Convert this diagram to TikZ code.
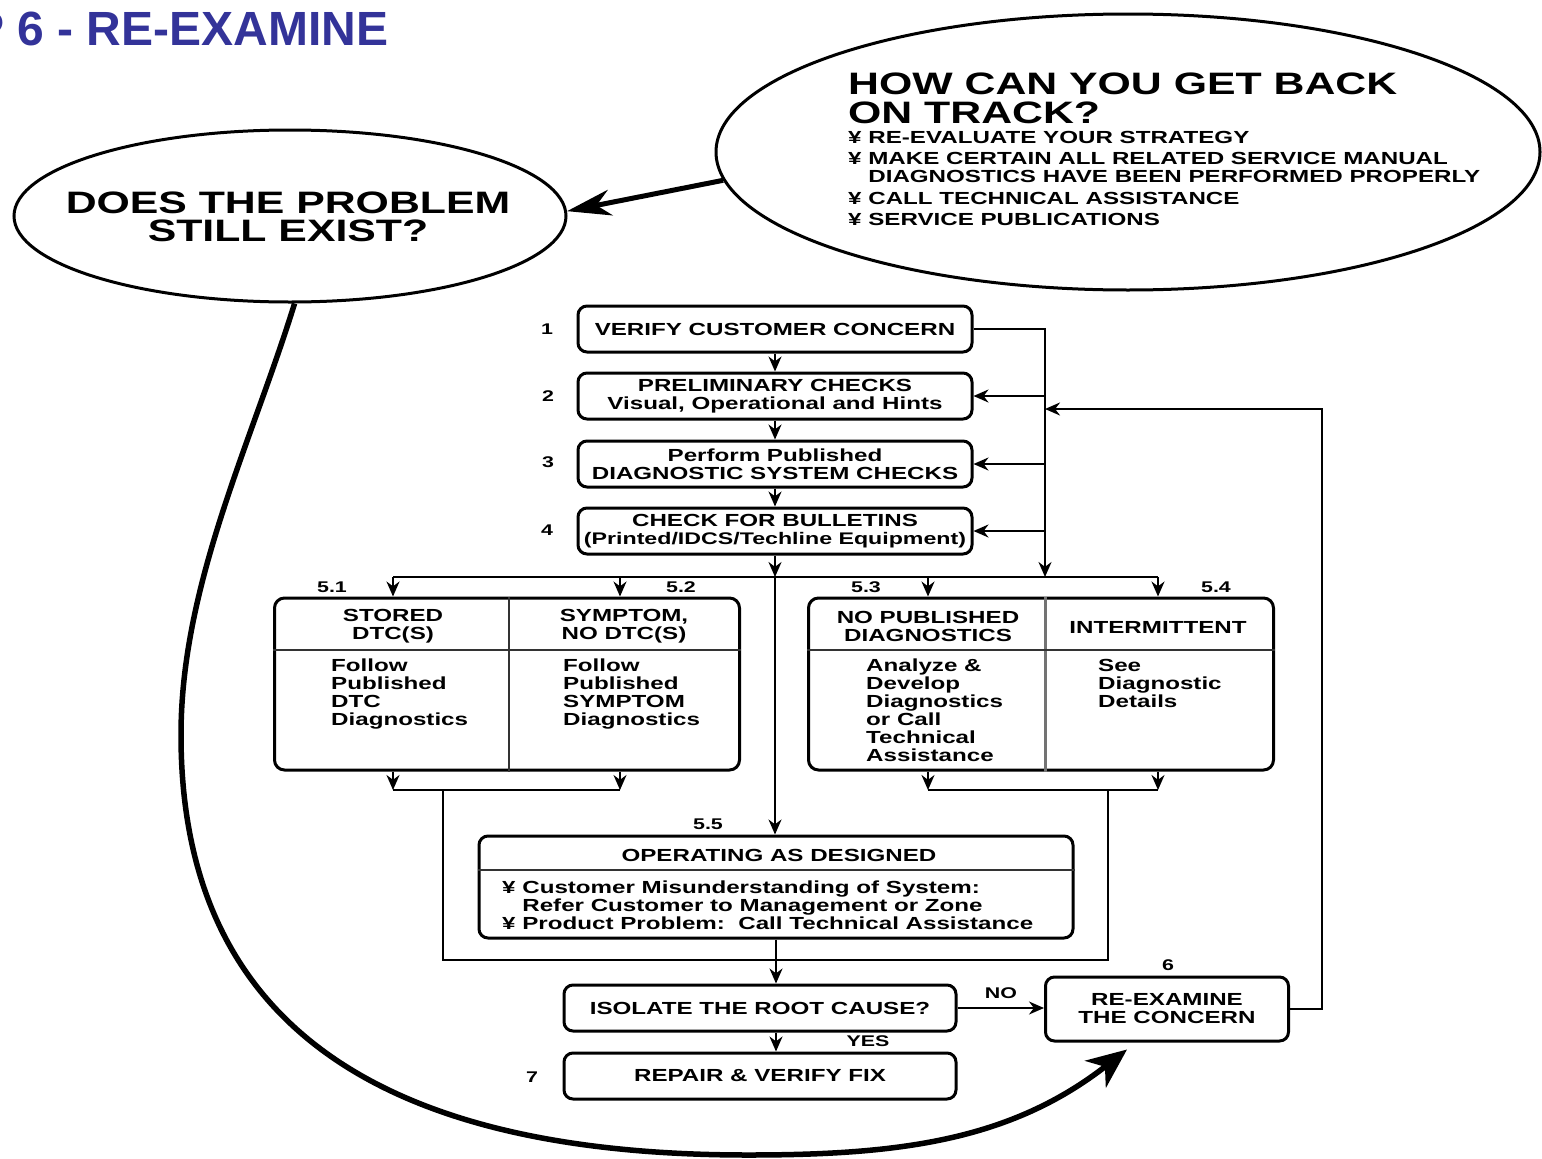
\documentclass[tikz,border=0pt]{standalone}
\usepackage{fontspec}
\setmainfont{Liberation Sans}
\newfontfamily\widefont[FakeStretch=1.38]{Liberation Sans}
\usetikzlibrary{arrows.meta, positioning, shapes.geometric}
\definecolor{titleblue}{RGB}{51,51,153}

\begin{document}
\begin{tikzpicture}[
  x=1pt, y=-1pt,
  every node/.style = {inner sep=0pt, font=\widefont\bfseries\fontsize{17.5}{18}\selectfont},
  stepbox/.style  = {rectangle, draw, line width=3pt, rounded corners=9pt,
                     minimum width=394pt, minimum height=46pt, align=center},
  splitbox/.style = {rectangle, draw, line width=3pt, rounded corners=10pt,
                     minimum width=465pt, minimum height=172pt},
  bubble/.style   = {ellipse, draw, line width=3pt},
  cellhead/.style = {align=center},
  cellbody/.style = {anchor=north west, align=left},
  numlbl/.style   = {font=\widefont\bfseries\fontsize{15.5}{16}\selectfont},
  bigtext/.style  = {font=\widefont\bfseries\fontsize{31}{28.5}\selectfont},
  titletext/.style= {font=\bfseries\fontsize{48}{50}\selectfont, text=titleblue},
  flow/.style     = {-{Stealth[length=15pt,width=13pt]}, line width=2pt},
  wire/.style     = {line width=2pt},
  divider/.style  = {line width=2pt, black!80},
  bigflow/.style  = {-{Stealth[length=40pt,width=34pt,inset=12pt]}, line width=5.5pt}
]
\useasboundingbox (0,0) rectangle (1542,1159);

\node[titletext, anchor=base west] (title) at (-28,45) {P 6 - RE-EXAMINE};

% bubbles
\node[bubble, minimum width=552pt, minimum height=172pt] (problem) at (290,216) {};
\node[bigtext, align=center] (problemtext) at (288,217) {DOES THE PROBLEM\\STILL EXIST?};
\node[bubble, minimum width=824pt, minimum height=276pt] (backtrack) at (1128,152) {};
\node[bigtext, anchor=north west, align=left] (backhead) at (848,73)
  {HOW CAN YOU GET BACK\\ON TRACK?};
\node[cellbody] (backlist) at (848,131)
  {¥ RE-EVALUATE YOUR STRATEGY\\[3pt]
   ¥ MAKE CERTAIN ALL RELATED SERVICE MANUAL\\
   \phantom{¥ }DIAGNOSTICS HAVE BEEN PERFORMED PROPERLY\\[4pt]
   ¥ CALL TECHNICAL ASSISTANCE\\[3pt]
   ¥ SERVICE PUBLICATIONS};

% steps 1-4
\node[stepbox] (verify)    at (775,329) {VERIFY CUSTOMER CONCERN};
\node[stepbox] (prelim)    at (775,396) {PRELIMINARY CHECKS\\Visual, Operational and Hints};
\node[stepbox] (perform)   at (775,464) {Perform Published\\DIAGNOSTIC SYSTEM CHECKS};
\node[stepbox] (bulletins) at (775,531)
  {CHECK FOR BULLETINS\\{\fontsize{16.8}{18}\selectfont(Printed/IDCS/Techline Equipment)}};
\node[numlbl] (n1) at (547,329) {1};
\node[numlbl] (n2) at (548,396) {2};
\node[numlbl] (n3) at (548,462) {3};
\node[numlbl] (n4) at (547,530) {4};

% steps 5.1-5.4
\node[splitbox] (dtcbox)   at (507,684) {};
\node[splitbox] (nopubbox) at (1041,684) {};
\node[cellhead] (dtchead)   at (393,626)  {STORED\\DTC(S)};
\node[cellhead] (symhead)   at (624,626)  {SYMPTOM,\\NO DTC(S)};
\node[cellhead] (nopubhead) at (928,626)  {NO PUBLISHED\\DIAGNOSTICS};
\node[cellhead] (interhead) at (1158,627) {INTERMITTENT};
\node[cellbody] (dtcbody)   at (331,659)  {Follow\\Published\\DTC\\Diagnostics};
\node[cellbody] (symbody)   at (563,659)  {Follow\\Published\\SYMPTOM\\Diagnostics};
\node[cellbody] (nopubbody) at (866,659)  {Analyze \&\\Develop\\Diagnostics\\or Call\\Technical\\Assistance};
\node[cellbody] (interbody) at (1098,659) {See\\Diagnostic\\Details};
\node[numlbl] (l51) at (332,587)  {5.1};
\node[numlbl] (l52) at (681,587)  {5.2};
\node[numlbl] (l53) at (866,587)  {5.3};
\node[numlbl] (l54) at (1216,587) {5.4};

% step 5.5
\node[stepbox, minimum width=594pt, minimum height=102pt] (designed) at (776,887) {};
\node (designedhead) at (779,855) {OPERATING AS DESIGNED};
\node[cellbody] (designedlist) at (502,881)
  {¥ Customer Misunderstanding of System:\\
   \phantom{¥ }Refer Customer to Management or Zone\\
   ¥ Product Problem:\ \ Call Technical Assistance};
\node[numlbl] (l55) at (708,824) {5.5};

% steps 6-7
\node[stepbox, minimum width=392pt] (isolate)  at (760,1008) {ISOLATE THE ROOT CAUSE?};
\node[stepbox, minimum width=243pt, minimum height=64pt] (reexamine) at (1167,1009)
  {RE-EXAMINE\\THE CONCERN};
\node[stepbox, minimum width=392pt] (repair)   at (760,1076) {REPAIR \& VERIFY FIX};
\node[numlbl] (n6) at (1168,965) {6};
\node[numlbl] (n7) at (532,1077) {7};
\node[numlbl] (nolbl)  at (1001,993)  {NO};
\node[numlbl] (yeslbl) at (868,1041)  {YES};

% dividers
\draw[divider] ([xshift=2pt]dtcbox.north) -- ([xshift=2pt]dtcbox.south);
\draw[divider] ([yshift=-53pt]dtcbox.north west) -- ([yshift=-53pt]dtcbox.north east);
\draw[line width=3pt, black!55] ([xshift=4pt]nopubbox.north) -- ([xshift=4pt]nopubbox.south);
\draw[divider] ([yshift=-53pt]nopubbox.north west) -- ([yshift=-53pt]nopubbox.north east);
\draw[divider] ([yshift=-35pt]designed.north west) -- ([yshift=-35pt]designed.north east);

% junctions
\coordinate (hub)   at (775,577);
\coordinate (busL)  at (393,577);
\coordinate (bus2)  at (620,577);
\coordinate (bus3)  at (928,577);
\coordinate (busR)  at (1158,577);
\coordinate (rbus)  at (1045,577);
\coordinate (rjoin) at (1045,409);
\coordinate (rloop) at (1322,409);
\coordinate (outL1) at (393,790);
\coordinate (outL2) at (620,790);
\coordinate (outR1) at (928,790);
\coordinate (outR2) at (1158,790);
\coordinate (loopL) at (443,790);
\coordinate (loopR) at (1108,790);
\coordinate (loopbot) at (775,960);
\coordinate (reentry) at ([xshift=-40pt,yshift=-7pt]reexamine.south);

% connectors
\draw[flow] (verify) -- (prelim);
\draw[flow] (prelim) -- (perform);
\draw[flow] (perform) -- (bulletins);
\draw[flow] (verify.east) -| (rbus);
\foreach \b in {prelim,perform,bulletins}
  \draw[flow] (\b.east -| rbus) -- (\b.east);
\draw[flow] (reexamine.east) -| (rloop) -- (rjoin);
\draw[flow] (bulletins.south) -- (hub);
\draw[wire] (busL) -- (busR);
\foreach \c in {busL,bus2,bus3,busR}
  \draw[flow] (\c) -- (\c |- dtcbox.north);
\foreach \c in {outL1,outL2,outR1,outR2}
  \draw[flow] (\c |- dtcbox.south) -- (\c);
\draw[wire] (outL1) -- (outL2);
\draw[wire] (outR1) -- (outR2);
\draw[wire] (loopL) |- (loopbot) -| (loopR);
\draw[flow] (hub) -- (hub |- designed.north);
\draw[flow] (designed.south) -- (designed.south |- isolate.north);
\draw[flow] (isolate.east) -- (isolate.east -| reexamine.west);
\draw[flow] (designed.south |- isolate.south) -- (designed.south |- repair.north);

\draw[-{Stealth[length=44pt,width=26pt,inset=14pt]}, line width=5pt]
  (backtrack.184) -- (problem.1);
\draw[bigflow] (problem.-87) .. controls (251,444) and (181,585) .. (181,735)
  .. controls (181,1015) and (368,1155) .. (748,1155)
  .. controls (898,1155) and (1010,1141) .. (reentry);
\end{tikzpicture}
\end{document}
